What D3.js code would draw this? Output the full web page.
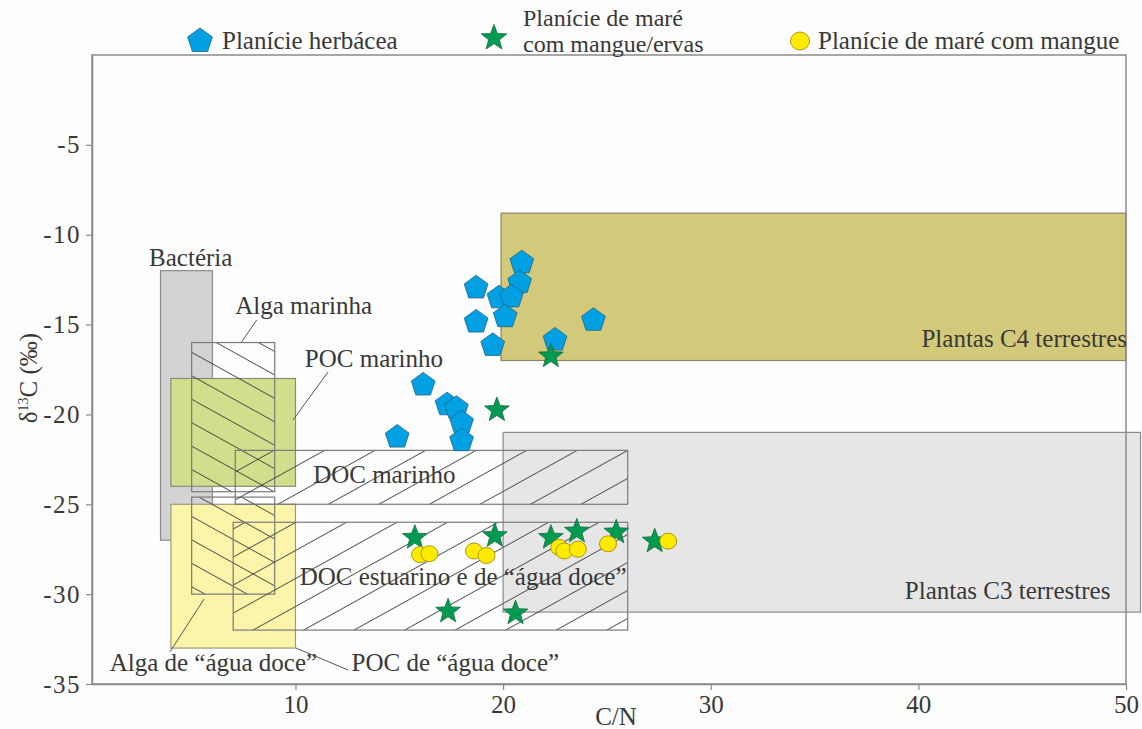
<!DOCTYPE html>
<html><head><meta charset="utf-8">
<script src="https://cdn.jsdelivr.net/npm/d3@7"></script>
<style>
body{margin:0;background:#fdfdfd;}
svg text{font-family:"Liberation Serif","Times New Roman",serif;fill:#383838;}
</style></head><body>
<svg id="chart" width="1142" height="729"></svg>
<script>
// Samples: C/N ratio and δ13C (‰) for each environment
const herbCN   = [20.9, 20.8, 18.7, 19.8, 20.4, 18.7, 20.1, 24.35, 22.5, 19.5, 16.15, 17.3, 17.75, 18.0, 18.0, 14.9];
const herbD13C = [-11.5, -12.6, -12.9, -13.45, -13.4, -14.8, -14.5, -14.7, -15.8, -16.1, -18.3, -19.4, -19.6, -20.4, -21.4, -21.2];

const mangHerbCN   = [22.3, 19.7, 15.75, 19.6, 22.3, 23.55, 25.45, 27.3, 17.35, 20.6];
const mangHerbD13C = [-16.7, -19.7, -26.8, -26.7, -26.8, -26.45, -26.5, -27.0, -30.9, -31.0];

const mangCN   = [16.0, 16.45, 18.6, 19.2, 22.7, 22.95, 23.6, 25.05, 27.95];
const mangD13C = [-27.8, -27.75, -27.6, -27.85, -27.4, -27.6, -27.5, -27.2, -27.05];

const legendLabels = ["Planície herbácea", "Planície de maré|com mangue/ervas", "Planície de maré com mangue"];

// Source ranges (C/N and δ13C bounds)
const rangeNames   = ["Bactéria", "Plantas C3 terrestres", "Plantas C4 terrestres", "POC marinho", "POC de “água doce”",
                      "Alga marinha", "Alga de “água doce”", "DOC marinho", "DOC estuarino e de “água doce”"];
const rangeCNmin   = [3.5, 20, 19.9, 4, 4, 5, 5, 7.1, 7];
const rangeCNmax   = [6, 50.7, 50, 10, 10, 9, 9, 26, 26];
const rangeD13Ctop = [-12, -21, -8.8, -18, -25, -16, -24.6, -22, -26];
const rangeD13Cbot = [-27, -31, -17, -24, -33, -24.3, -30, -25, -32];

// Label anchors (C/N, δ13C) for each range
const labelCN   = [2.95, 39.35, 40.15, 10.45, 12.7, 7.1, 1.05, 10.85, 10.2];
const labelD13C = [-11.75, -30.25, -16.25, -17.35, -34.3, -14.4, -34.3, -23.8, -29.5];

// Leader lines: [from CN, from δ13C, to CN, to δ13C]
const leaderLines = [
  [8.13, -14.75, 7.41, -15.96],
  [11.57, -17.64, 9.88, -20.31],
  [5.6, -30.27, 3.96, -33.2],
  [10.03, -33.0, 12.53, -34.22]
];

const xTicks = [10, 20, 30, 40, 50];
const yTicks = [-5, -10, -15, -20, -25, -30, -35];

const svg = d3.select("#chart");
const x = d3.scaleLinear().domain([0.2, 50]).range([92, 1126]);
const y = d3.scaleLinear().domain([0, -35]).range([55, 684]);

// Hatch patterns
const defs = svg.append("defs");
function hatch(id, spacing, angle) {
  const p = defs.append("pattern").attr("id", id).attr("patternUnits", "userSpaceOnUse")
    .attr("width", 20).attr("height", spacing)
    .attr("patternTransform", `rotate(${angle})`);
  p.append("line").attr("x1", 0).attr("x2", 20).attr("y1", spacing / 2).attr("y2", spacing / 2)
    .attr("stroke", "#444").attr("stroke-width", 0.9);
}
hatch("hatchBack", 20.5, 29);
hatch("hatchFwd", 24.5, -29);

const styles = {
  "Bactéria": {fill: "#d3d3d5", stroke: "#8c8c8c"},
  "Plantas C3 terrestres": {fill: "#e6e6e6", stroke: "#8c8c8c"},
  "Plantas C4 terrestres": {fill: "#d3c97a", stroke: "#8a8560"},
  "POC marinho": {fill: "#d3de8c", stroke: "#8c8c7a"},
  "POC de “água doce”": {fill: "#fcf4a8", stroke: "#9c9a80"},
  "Alga marinha": {fill: "url(#hatchBack)", stroke: "#7a7a7a"},
  "Alga de “água doce”": {fill: "url(#hatchBack)", stroke: "#7a7a7a"},
  "DOC marinho": {fill: "url(#hatchFwd)", stroke: "#7a7a7a"},
  "DOC estuarino e de “água doce”": {fill: "url(#hatchFwd)", stroke: "#7a7a7a"}
};

const ranges = rangeNames.map((n, i) => ({name: n, x0: rangeCNmin[i], x1: rangeCNmax[i], yt: rangeD13Ctop[i], yb: rangeD13Cbot[i]}));

svg.append("g").selectAll("rect").data(ranges).join("rect")
  .attr("x", d => x(d.x0)).attr("y", d => y(d.yt))
  .attr("width", d => x(d.x1) - x(d.x0)).attr("height", d => y(d.yb) - y(d.yt))
  .attr("fill", d => styles[d.name].fill).attr("stroke", d => styles[d.name].stroke).attr("stroke-width", 1.2);

// Frame
svg.append("rect").attr("x", x(0.2)).attr("y", y(0)).attr("width", x(50) - x(0.2)).attr("height", y(-35) - y(0))
  .attr("fill", "none").attr("stroke", "#8a8a8a").attr("stroke-width", 1.5);

// Range labels and leaders
svg.append("g").selectAll("text").data(ranges).join("text")
  .attr("x", (d, i) => x(labelCN[i])).attr("y", (d, i) => y(labelD13C[i]))
  .attr("font-size", 25).text(d => d.name);
svg.append("g").selectAll("line").data(leaderLines).join("line")
  .attr("x1", d => x(d[0])).attr("y1", d => y(d[1])).attr("x2", d => x(d[2])).attr("y2", d => y(d[3]))
  .attr("stroke", "#555").attr("stroke-width", 1);

// Axes
const xAxis = svg.append("g").attr("transform", `translate(0,${y(-35)})`)
  .call(d3.axisBottom(x).tickValues(xTicks).tickSize(6).tickSizeOuter(0).tickPadding(5));
const yAxis = svg.append("g").attr("transform", `translate(${x(0.2)},0)`)
  .call(d3.axisLeft(y).tickValues(yTicks).tickFormat(d => String(d)).tickSize(6).tickSizeOuter(0).tickPadding(5));
[xAxis, yAxis].forEach(a => {
  a.select(".domain").attr("stroke", "#8a8a8a").attr("stroke-width", 1.5);
  a.selectAll(".tick line").attr("stroke", "#8a8a8a").attr("stroke-width", 1.2);
  a.selectAll(".tick text").attr("font-size", 25).attr("font-family", "Liberation Serif").attr("fill", "#383838");
});
yAxis.selectAll(".tick text").attr("letter-spacing", 1.5);

svg.append("text").attr("x", 616).attr("y", 725).attr("text-anchor", "middle").attr("font-size", 25).text("C/N");
const yl = svg.append("text").attr("transform", "translate(37,378) rotate(-90)").attr("text-anchor", "middle").attr("font-size", 25);
yl.append("tspan").text("δ");
yl.append("tspan").attr("font-size", 14).attr("dy", -9).text("13");
yl.append("tspan").attr("dy", 9).text("C (‰)");

// Marker shapes
function pentagon(r) {
  const pts = d3.range(5).map(k => {
    const a = -Math.PI / 2 + k * 2 * Math.PI / 5;
    return [r * Math.cos(a), r * Math.sin(a)];
  });
  return "M" + pts.map(p => p.join(",")).join("L") + "Z";
}
function star(R, ratio) {
  const pts = d3.range(10).map(k => {
    const a = -Math.PI / 2 + k * Math.PI / 5;
    const r = k % 2 ? R * ratio : R;
    return [r * Math.cos(a), r * Math.sin(a)];
  });
  return "M" + pts.map(p => p.join(",")).join("L") + "Z";
}
const pentStyle = {fill: "#00a0e2", stroke: "#1f6688"};
const starStyle = {fill: "#009b50", stroke: "#1d6a40"};
const circStyle = {fill: "#ffea00", stroke: "#a38e00"};

const herb = herbCN.map((v, i) => [v, herbD13C[i]]);
const mangHerb = mangHerbCN.map((v, i) => [v, mangHerbD13C[i]]);
const mang = mangCN.map((v, i) => [v, mangD13C[i]]);

svg.append("g").selectAll("path").data(herb).join("path")
  .attr("d", pentagon(12.5)).attr("transform", d => `translate(${x(d[0])},${y(d[1]) + 1})`)
  .attr("fill", pentStyle.fill).attr("stroke", pentStyle.stroke).attr("stroke-width", 0.8);
svg.append("g").selectAll("path").data(mangHerb).join("path")
  .attr("d", star(13, 0.42)).attr("transform", d => `translate(${x(d[0])},${y(d[1]) + 1})`)
  .attr("fill", starStyle.fill).attr("stroke", starStyle.stroke).attr("stroke-width", 0.8);
svg.append("g").selectAll("ellipse").data(mang).join("ellipse")
  .attr("cx", d => x(d[0])).attr("cy", d => y(d[1])).attr("rx", 8.5).attr("ry", 8)
  .attr("fill", circStyle.fill).attr("stroke", circStyle.stroke).attr("stroke-width", 0.9);

// Legend
const lg = svg.append("g");
lg.append("path").attr("d", pentagon(13)).attr("transform", "translate(200,41)")
  .attr("fill", pentStyle.fill).attr("stroke", pentStyle.stroke).attr("stroke-width", 0.8);
lg.append("text").attr("x", 222).attr("y", 49).attr("font-size", 25).text(legendLabels[0]);
lg.append("path").attr("d", star(13.5, 0.42)).attr("transform", "translate(494,38)")
  .attr("fill", starStyle.fill).attr("stroke", starStyle.stroke).attr("stroke-width", 0.8);
const l2 = legendLabels[1].split("|");
lg.append("text").attr("x", 523).attr("y", 26).attr("font-size", 24).text(l2[0]);
lg.append("text").attr("x", 523).attr("y", 52).attr("font-size", 24).text(l2[1]);
lg.append("ellipse").attr("cx", 800).attr("cy", 41).attr("rx", 9.5).attr("ry", 9)
  .attr("fill", circStyle.fill).attr("stroke", circStyle.stroke).attr("stroke-width", 0.9);
lg.append("text").attr("x", 818).attr("y", 49).attr("font-size", 25).text(legendLabels[2]);
</script>
</body></html>
